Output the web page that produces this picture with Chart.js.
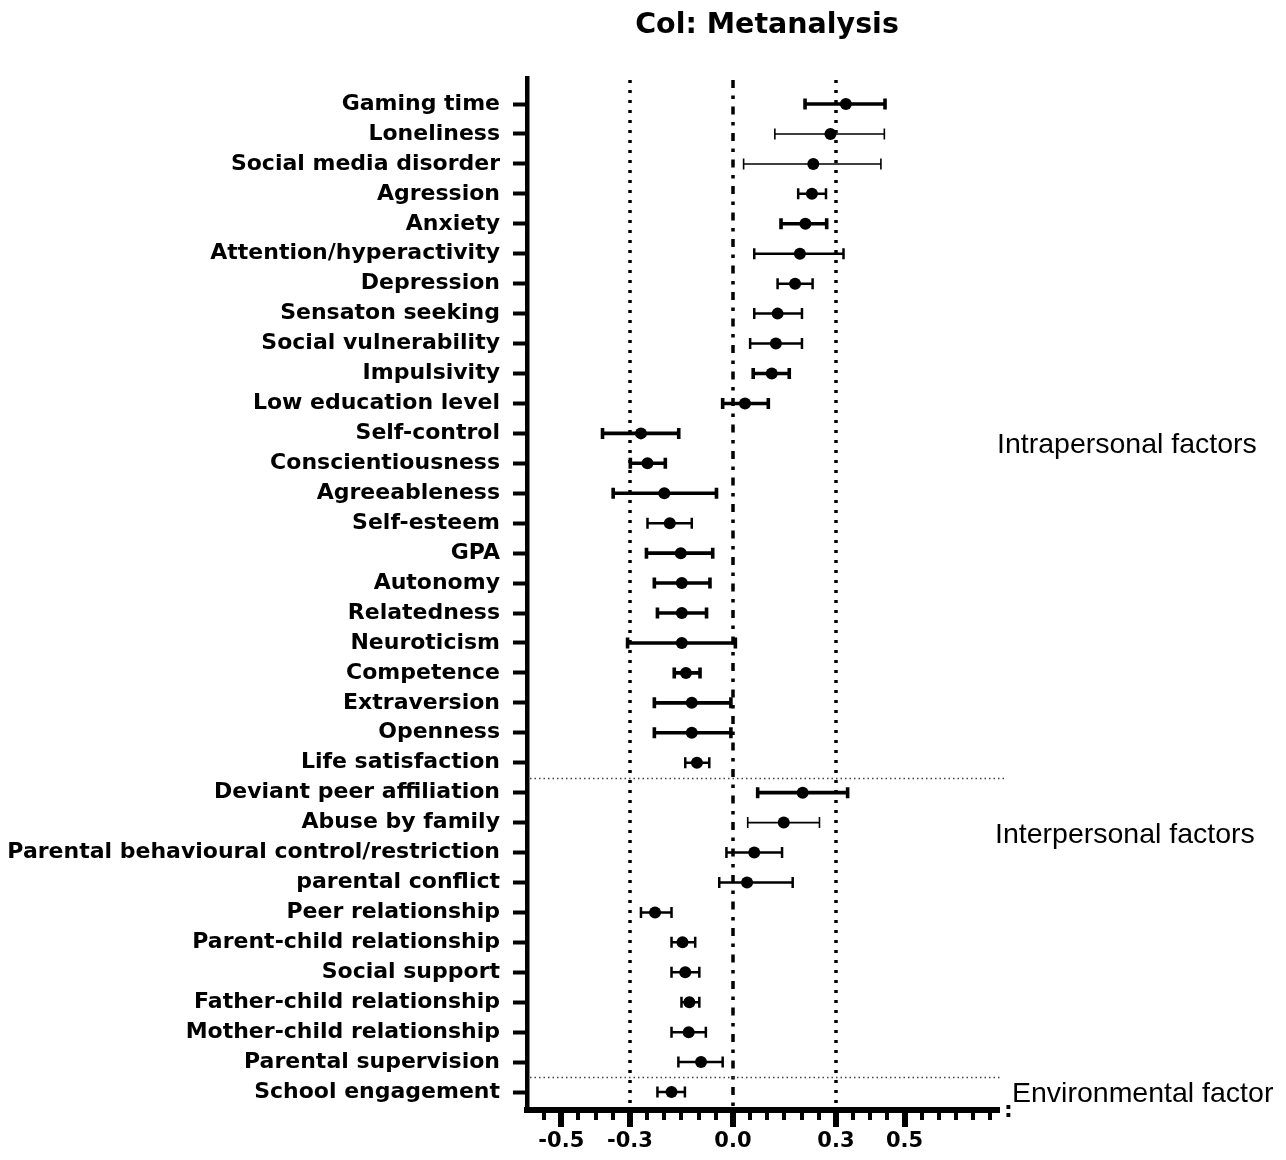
<!DOCTYPE html>
<html>
<head>
<meta charset="utf-8">
<title>Col: Metanalysis</title>
<script src="https://cdn.jsdelivr.net/npm/chart.js@4.4.1/dist/chart.umd.min.js"></script>
<style>
    html, body { margin: 0; padding: 0; background: #fff; }
    #wrap { width: 1286px; height: 1160px; position: relative; }
</style>
</head>
<body>
<div id="wrap"><canvas id="forestChart"></canvas></div>
<script>
// ---- data ----
var factors = [
    'Gaming time', 'Loneliness', 'Social media disorder', 'Agression', 'Anxiety',
    'Attention/hyperactivity', 'Depression', 'Sensaton seeking', 'Social vulnerability',
    'Impulsivity', 'Low education level', 'Self-control', 'Conscientiousness',
    'Agreeableness', 'Self-esteem', 'GPA', 'Autonomy', 'Relatedness', 'Neuroticism',
    'Competence', 'Extraversion', 'Openness', 'Life satisfaction',
    'Deviant peer affiliation', 'Abuse by family', 'Parental behavioural control/restriction',
    'parental conflict', 'Peer relationship', 'Parent-child relationship', 'Social support',
    'Father-child relationship', 'Mother-child relationship', 'Parental supervision',
    'School engagement'
];
var estimate = [
    0.329, 0.284, 0.234, 0.230, 0.211, 0.195, 0.181, 0.130, 0.125, 0.113, 0.035,
    -0.268, -0.249, -0.200, -0.184, -0.152, -0.149, -0.149, -0.149, -0.137, -0.120, -0.120, -0.105,
    0.203, 0.148, 0.062, 0.041, -0.227, -0.147, -0.139, -0.127, -0.129, -0.093,
    -0.179
];
var lowerCI = [
    0.210, 0.122, 0.031, 0.190, 0.140, 0.062, 0.130, 0.062, 0.050, 0.059, -0.030,
    -0.380, -0.299, -0.349, -0.249, -0.252, -0.229, -0.220, -0.307, -0.171, -0.229, -0.229, -0.139,
    0.072, 0.043, -0.019, -0.040, -0.268, -0.179, -0.179, -0.150, -0.179, -0.159,
    -0.220
];
var upperCI = [
    0.443, 0.441, 0.431, 0.271, 0.273, 0.322, 0.232, 0.201, 0.201, 0.164, 0.103,
    -0.158, -0.197, -0.048, -0.120, -0.059, -0.067, -0.077, 0.007, -0.096, -0.006, -0.006, -0.069,
    0.334, 0.252, 0.143, 0.174, -0.179, -0.110, -0.098, -0.098, -0.079, -0.030,
    -0.140
];
var xTickLabels = [-0.5, -0.3, 0.0, 0.3, 0.5];
var groups = ['Intrapersonal factors', 'Interpersonal factors', 'Environmental factor'];
var groupRows = [11.32, 24.35, 33];          // vertical position of the group captions (row units)
var groupBreaks = [22.5, 32.5];              // dotted separators between groups
var refLines = [-0.3, 0, 0.3];

// ---- styling ----
// line weight of each CI bar as drawn in the figure (T thick, M medium, t thin)
var ciWeight = 'TttMTMMMMTTTTTMTTTTTTTMTtMMMMMMMMM';
var weightPx = { T: 3.6, M: 2.5, t: 1.6 };
var LABEL_FONT = '"DejaVu Sans", sans-serif';

var points = estimate.map(function (v, i) { return { x: v, y: i }; });

var forestPlugin = {
    id: 'forestPlugin',
    beforeDatasetsDraw: function (chart) {
        var ctx = chart.ctx, xs = chart.scales.x, ys = chart.scales.y, area = chart.chartArea;
        ctx.save();

        // vertical reference lines
        refLines.forEach(function (v) {
            var px = Math.round(xs.getPixelForValue(v));
            ctx.beginPath();
            ctx.strokeStyle = '#000';
            ctx.lineWidth = 3.5;
            if (v === 0) {
                ctx.setLineDash([8, 7.5, 3.5, 7.5]);
            } else {
                ctx.setLineDash([3, 7]);
            }
            ctx.moveTo(px, area.top + 2);
            ctx.lineTo(px, area.bottom);
            ctx.stroke();
        });

        // group separators
        ctx.setLineDash([1.5, 3]);
        ctx.lineWidth = 1.5;
        ctx.strokeStyle = '#444';
        groupBreaks.forEach(function (r, k) {
            var py = Math.round(ys.getPixelForValue(r)) + 0.5;
            ctx.beginPath();
            ctx.moveTo(area.left + 3, py);
            ctx.lineTo(area.right + (k === 0 ? 5 : 2), py);
            ctx.stroke();
        });
        ctx.setLineDash([]);

        // confidence interval bars
        ctx.strokeStyle = '#000';
        factors.forEach(function (f, i) {
            var y = ys.getPixelForValue(i);
            var x1 = xs.getPixelForValue(lowerCI[i]);
            var x2 = xs.getPixelForValue(upperCI[i]);
            var cap = 5.5;
            ctx.lineWidth = weightPx[ciWeight.charAt(i)];
            ctx.beginPath();
            ctx.moveTo(x1, y);
            ctx.lineTo(x2, y);
            ctx.moveTo(x1, y - cap);
            ctx.lineTo(x1, y + cap);
            ctx.moveTo(x2, y - cap);
            ctx.lineTo(x2, y + cap);
            ctx.stroke();
        });
        ctx.restore();
    },
    afterDraw: function (chart) {
        var ctx = chart.ctx, xs = chart.scales.x, ys = chart.scales.y, area = chart.chartArea;
        ctx.save();

        // x tick marks: short minor, long major
        ctx.fillStyle = '#000';
        xs.ticks.forEach(function (t) {
            var px = xs.getPixelForValue(t.value);
            var isMajor = xTickLabels.some(function (m) { return Math.abs(m - t.value) < 1e-6; });
            var w = isMajor ? 6 : 4;
            var len = isMajor ? 17 : 10;
            ctx.fillRect(Math.round(px - w / 2), area.bottom, w, len);
        });

        // axis break mark at the right end
        ctx.font = 'bold 22px ' + LABEL_FONT;
        ctx.textAlign = 'left';
        ctx.textBaseline = 'middle';
        ctx.fillText(':', area.right + 5, area.bottom + 1);

        // title
        ctx.font = 'bold 28.5px ' + LABEL_FONT;
        ctx.textAlign = 'center';
        ctx.textBaseline = 'middle';
        ctx.fillText('Col: Metanalysis', (area.left + area.right) / 2 + 4, 26);

        // group captions
        ctx.font = '28.5px "Liberation Sans", Arial, sans-serif';
        ctx.textAlign = 'left';
        ctx.textBaseline = 'alphabetic';
        var capX = [area.right - 2, area.right - 4, area.right + 13];
        groups.forEach(function (g, k) {
            ctx.fillText(g, capX[k], ys.getPixelForValue(groupRows[k]) + 10.3);
        });
        ctx.restore();
    }
};

new Chart(document.getElementById('forestChart'), {
    type: 'scatter',
    data: {
        datasets: [{
            label: 'Estimate',
            data: points,
            pointRadius: 6,
            pointHoverRadius: 6,
            pointBackgroundColor: '#000',
            pointBorderColor: '#000',
            pointBorderWidth: 0
        }]
    },
    options: {
        responsive: true,
        maintainAspectRatio: false,
        animation: false,
        layout: { padding: { top: 78, right: 287, left: 0, bottom: 0 } },
        plugins: {
            legend: { display: false },
            tooltip: { enabled: false },
            title: { display: false }
        },
        scales: {
            x: {
                type: 'linear',
                min: -0.6,
                max: 0.775,
                afterBuildTicks: function (axis) {
                    var t = [];
                    for (var k = -11; k <= 15; k++) t.push({ value: Math.round(k * 5) / 100 });
                    axis.ticks = t;
                },
                afterFit: function (axis) { axis.height = 50; },
                grid: { display: true, drawOnChartArea: false, drawTicks: false },
                border: { display: true, width: 6, color: '#000' },
                ticks: {
                    autoSkip: false,
                    maxRotation: 0,
                    padding: 19,
                    color: '#000',
                    font: { family: LABEL_FONT, size: 21, weight: 'bold' },
                    callback: function (v) {
                        var hit = xTickLabels.filter(function (m) { return Math.abs(m - v) < 1e-6; });
                        return hit.length ? hit[0].toFixed(1) : '';
                    }
                }
            },
            y: {
                type: 'linear',
                reverse: true,
                min: -0.87,
                max: 33.6,
                afterBuildTicks: function (axis) {
                    axis.ticks = factors.map(function (f, i) { return { value: i }; });
                },
                afterFit: function (axis) { axis.width = 527; },
                grid: { display: true, drawOnChartArea: false, drawTicks: true, tickLength: 14, tickWidth: 4, tickColor: '#000' },
                border: { display: true, width: 4.5, color: '#000' },
                ticks: {
                    autoSkip: false,
                    padding: 13,
                    color: '#000',
                    font: { family: LABEL_FONT, size: 22, weight: 'bold' },
                    callback: function (v) { return factors[v] !== undefined ? factors[v] : ''; }
                }
            }
        }
    },
    plugins: [forestPlugin]
});
</script>
</body>
</html>
